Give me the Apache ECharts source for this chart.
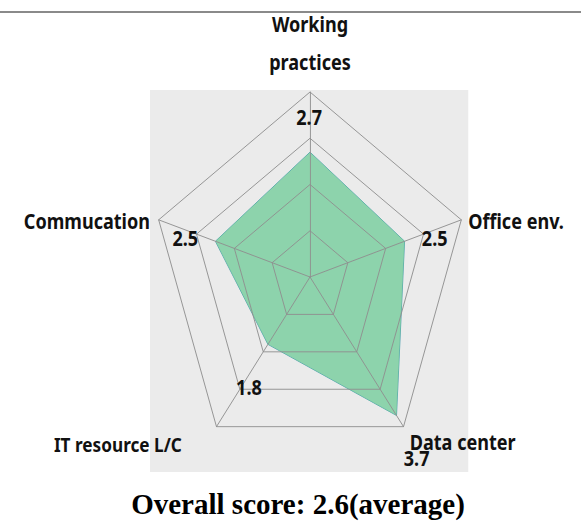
<!DOCTYPE html>
<html>
<head>
<meta charset="utf-8">
<script src="https://cdn.jsdelivr.net/npm/echarts@6/dist/echarts.min.js"></script>
<style>
  html, body { margin: 0; padding: 0; background: #ffffff; }
  #wrap { position: relative; width: 581px; height: 522px; overflow: hidden; }
  #radarChart { position: absolute; left: -100px; top: 0; width: 781px; height: 522px;
                transform: scaleX(0.86); transform-origin: 410px 0; }
  #titleChart { position: absolute; left: 0; top: 0; width: 581px; height: 522px; }
</style>
</head>
<body>
<div id="wrap">
  <div id="radarChart"></div>
  <div id="titleChart"></div>
</div>
<script>
// ---- data (indicators listed counter-clockwise from the top) ----
const categories = ['Working practices', 'Commucation', 'IT resource L/C', 'Data center', 'Office env.'];
const scores = [2.7, 2.5, 1.8, 3.7, 2.5];
const scoreLabels = ['2.7', '2.5', '1.8', '3.7', '2.5'];
const axisMax = 4;
const titleText = 'Overall score: 2.6(average)';

// ---- styles ----
const FONT = "'Noto Sans', 'DejaVu Sans', sans-serif";
const nameStyle = { fontFamily: FONT, fontWeight: 'bold', fontSize: 21, fill: '#111' };
const OX = 100; // horizontal offset of the scaled layer

// text positions (in the scaled layer's own coordinates, before OX)
const namePos = [
  null,
  { x: 124, y: 221, align: 'right' },
  { x: 161, y: 444, align: 'right' },
  { x: 426, y: 442, align: 'left' },
  { x: 494, y: 221, align: 'left' }
];
const labelPos = [
  { x: 309, y: 117 },
  { x: 165, y: 238 },
  { x: 239, y: 387 },
  { x: 434, y: 458 },
  { x: 455, y: 238 }
];

const graphics = [
  { type: 'rect', z: -10, shape: { x: OX + 124, y: 90, width: 370, height: 382 },
    style: { fill: '#ebebeb' }, silent: true },
  { type: 'line', shape: { x1: OX - 52, y1: 12, x2: OX + 680, y2: 12 },
    style: { stroke: '#8a8a8a', lineWidth: 2 }, silent: true }
];
const topWords = categories[0].split(' ');
graphics.push({ type: 'text', z: 10, style: Object.assign({}, nameStyle, {
  text: topWords[0], x: OX + 310, y: 24, textAlign: 'center', textVerticalAlign: 'middle' }) });
graphics.push({ type: 'text', z: 10, style: Object.assign({}, nameStyle, {
  text: topWords[1], x: OX + 310, y: 62, textAlign: 'center', textVerticalAlign: 'middle' }) });
for (let i = 1; i < categories.length; i++) {
  const fs = categories[i].length > 12 ? 20 : 21;
  graphics.push({ type: 'text', z: 10, style: Object.assign({}, nameStyle, {
    text: categories[i], x: OX + namePos[i].x, y: namePos[i].y, fontSize: fs,
    textAlign: namePos[i].align, textVerticalAlign: 'middle' }) });
}
for (let i = 0; i < scoreLabels.length; i++) {
  graphics.push({ type: 'text', z: 10, style: Object.assign({}, nameStyle, {
    text: scoreLabels[i], x: OX + labelPos[i].x, y: labelPos[i].y,
    textAlign: 'center', textVerticalAlign: 'middle' }) });
}

const radarChart = echarts.init(document.getElementById('radarChart'), null, { renderer: 'svg' });
radarChart.setOption({
  animation: false,
  backgroundColor: 'transparent',
  graphic: graphics,
  radar: {
    z: 5,
    center: [OX + 310, 277],
    radius: 185,
    startAngle: 90,
    shape: 'polygon',
    splitNumber: 4,
    indicator: categories.map(n => ({ name: n, max: axisMax, min: 0 })),
    axisName: { show: false },
    axisLine: { lineStyle: { color: '#8f8f8f', width: 1 } },
    splitLine: { lineStyle: { color: '#8f8f8f', width: 1 } },
    splitArea: { show: false }
  },
  series: [{
    type: 'radar',
    z: 2,
    symbol: 'none',
    lineStyle: { color: '#4f9fae', width: 1 },
    areaStyle: { color: 'rgba(118,205,156,0.8)', opacity: 1 },
    data: [{ value: scores, name: 'score' }]
  }]
});

const titleChart = echarts.init(document.getElementById('titleChart'), null, { renderer: 'svg' });
titleChart.setOption({
  animation: false,
  backgroundColor: 'transparent',
  title: {
    text: titleText,
    left: 293, top: 499,
    textAlign: 'center', textVerticalAlign: 'middle',
    textStyle: { fontFamily: "'Liberation Serif', 'Times New Roman', serif",
                 fontWeight: 'bold', fontSize: 29, color: '#000' }
  }
});
</script>
</body>
</html>
